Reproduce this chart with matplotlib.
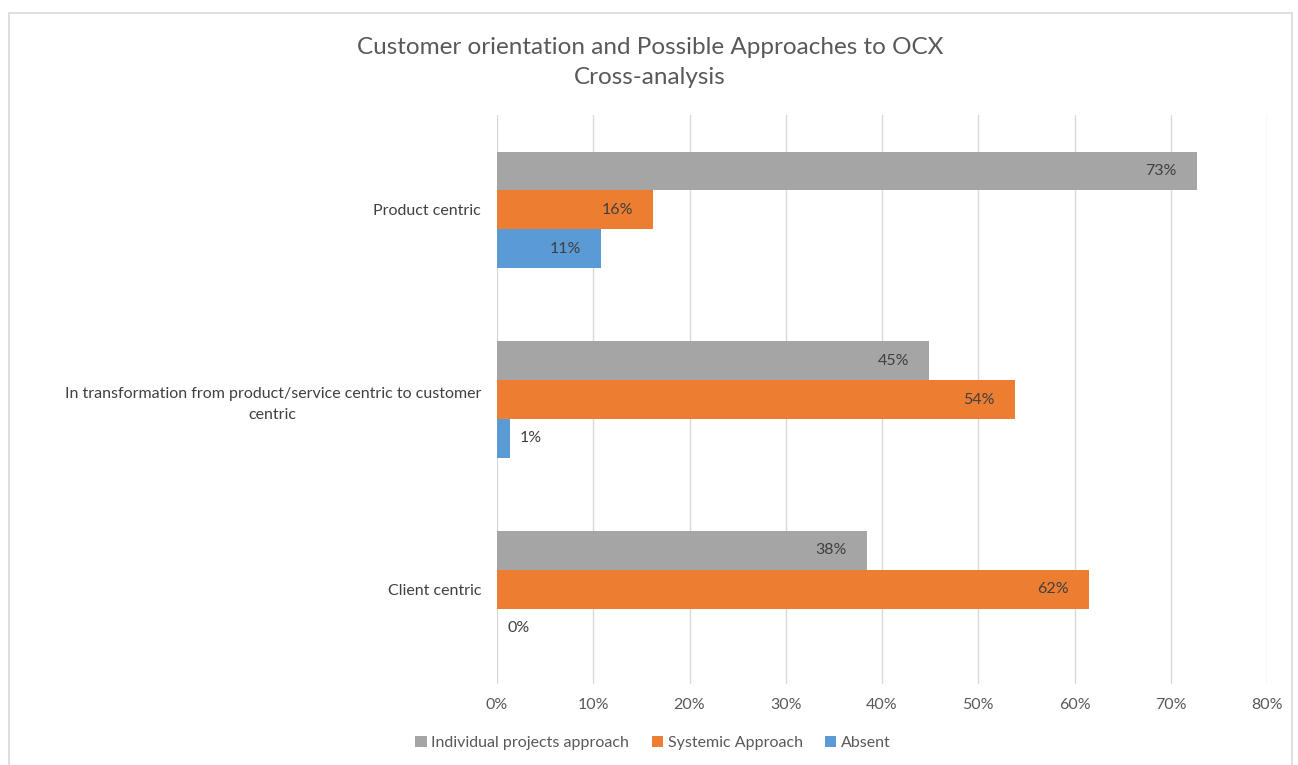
import matplotlib
matplotlib.use("Agg")
import matplotlib.pyplot as plt
from matplotlib.patches import Rectangle
import numpy as np

plt.rcParams['font.family'] = ['Lato', 'DejaVu Sans']

categories = ["Product centric",
              "In transformation from product/service centric to customer\ncentric",
              "Client centric"]
series_names = ["Individual projects approach", "Systemic Approach", "Absent"]
individual = [72.7, 44.9, 38.4]
systemic = [16.2, 53.8, 61.5]
absent = [10.8, 1.3, 0.0]
label_individual = ["73%", "45%", "38%"]
label_systemic = ["16%", "54%", "62%"]
label_absent = ["11%", "1%", "0%"]
xticks = [0, 10, 20, 30, 40, 50, 60, 70, 80]
colors = ["#A5A5A5", "#ED7D31", "#5B9BD5"]

W, H = 1298, 765
fig = plt.figure(figsize=(W/100, H/100), dpi=100)
ax = fig.add_axes([497/W, 1-684/H, (1267-497)/W, (684-115)/H])

ypos = np.array([2, 1, 0])
bh = 0.205
offsets = [bh, 0, -bh]
series = [individual, systemic, absent]
labels = [label_individual, label_systemic, label_absent]
for vals, labs, off, c, name in zip(series, labels, offsets, colors, series_names):
    bars = ax.barh(ypos + off, vals, height=bh, color=c, label=name, zorder=3)
    for b, v, lab in zip(bars, vals, labs):
        y = b.get_y() + b.get_height()/2
        if v > 5:
            ax.annotate(lab, (v, y), xytext=(-20, 0), textcoords='offset pixels',
                        ha='right', va='center', fontsize=11.5, color='#404040', zorder=4)
        else:
            ax.annotate(lab, (v, y), xytext=(10, 0), textcoords='offset pixels',
                        ha='left', va='center', fontsize=11.5, color='#404040', zorder=4)

ax.set_xlim(0, 80)
ax.set_ylim(-0.5, 2.5)
ax.set_xticks(xticks)
ax.set_xticklabels([f"{t}%" for t in xticks], fontsize=11.5, color='#595959')
ax.set_yticks(ypos)
ax.set_yticklabels(categories, fontsize=11.5, color='#404040',
                   multialignment='center', linespacing=1.6)
ax.tick_params(axis='both', length=0)
ax.tick_params(axis='x', pad=10)
ax.tick_params(axis='y', pad=11.5)
ax.grid(axis='x', color='#D9D9D9', linewidth=1, zorder=0)
for s in ax.spines.values():
    s.set_visible(False)

fig.text(650/W, 1-47/H, "Customer orientation and Possible Approaches to OCX",
         ha='center', va='center', fontsize=17.5, color='#595959')
fig.text(650/W, 1-77/H, "Cross-analysis",
         ha='center', va='center', fontsize=17.5, color='#595959')

fig.legend(loc='center', bbox_to_anchor=(653/W, 1-743/H), ncol=3, frameon=False,
           fontsize=11.5, handlelength=0.7, handleheight=0.7, handletextpad=0.3,
           columnspacing=1.4, labelcolor='#595959')

fig.patches.append(Rectangle((9/W, -0.05), (1292-9)/W, 1-13/H+0.05,
                             transform=fig.transFigure, fill=False,
                             edgecolor='#D9D9D9', linewidth=1.2))

fig.savefig("out.png", dpi=100, facecolor='white')
